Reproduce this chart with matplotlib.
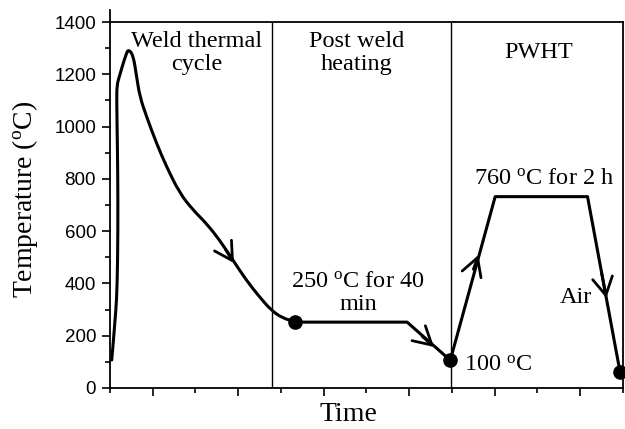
import numpy as np
import matplotlib
matplotlib.use("Agg")
import matplotlib.pyplot as plt
from matplotlib.path import Path
from matplotlib.patches import PathPatch

plt.rcParams['mathtext.fontset'] = 'custom'
plt.rcParams['mathtext.rm'] = 'Liberation Serif'
plt.rcParams['mathtext.it'] = 'Liberation Serif:italic'

# ---- data ----
weld_x = [0.04, 0.08, 0.117, 0.156, 0.18, 0.186, 0.175, 0.156, 0.163, 0.217, 0.31, 0.373, 0.426,
          0.543, 0.622, 0.699, 0.855, 1.088, 1.321, 1.631, 1.941, 2.253, 2.563, 2.873,
          3.185, 3.495, 3.767, 4.038, 4.334]
weld_T = [107, 180, 260, 337, 490, 719, 910, 1102, 1159, 1191, 1243, 1274, 1296,
          1274, 1191, 1114, 1038, 936, 847, 745, 681, 630, 566, 490,
          413, 349, 298, 267, 254]
pwh_x = [4.334, 6.95, 7.96]
pwh_T = [252, 252, 106]
pwht_x = [7.96, 9.01, 11.17, 11.93]
pwht_T = [106, 732, 732, 62]
marker_x = [4.334, 7.96, 11.93]
marker_T = [252, 106, 62]
arrow_tip_x = [2.90, 7.58, 8.62, 11.61]
arrow_tip_T = [478, 157, 509, 344]
arrow_tail_x = [2.70, 7.30, 8.50, 11.50]
arrow_tail_T = [530, 198, 454, 440]
divider_x = [3.78, 7.97]
yticks = [0, 200, 400, 600, 800, 1000, 1200, 1400]

fig = plt.figure(figsize=(6.25, 4.29), dpi=100)
ax = fig.add_axes([110/625, 41/429, 513/625, 378/429])

# smooth drawing of the weld thermal cycle: quadratic B-spline through the read points
pts = np.column_stack([weld_x, weld_T])
verts = [pts[0]]
codes = [Path.MOVETO]
for i in range(1, len(pts) - 1):
    verts += [pts[i], (pts[i] + pts[i + 1]) / 2]
    codes += [Path.CURVE3, Path.CURVE3]
verts.append(pts[-1])
codes.append(Path.LINETO)
ax.add_patch(PathPatch(Path(verts, codes), facecolor='none', edgecolor='black',
                       lw=2.2, joinstyle='round', capstyle='round'))

ax.plot(pwh_x, pwh_T, color='black', lw=2.2)
ax.plot(pwht_x, pwht_T, color='black', lw=2.2)
ax.plot(marker_x, marker_T, 'o', color='black', ms=9.5, clip_on=False, zorder=5)

for tx, tT, sx, sT in zip(arrow_tip_x, arrow_tip_T, arrow_tail_x, arrow_tail_T):
    ax.annotate('', xy=(tx, tT), xytext=(sx, sT),
                arrowprops=dict(arrowstyle='->,head_length=0.8,head_width=0.45',
                                color='black', lw=2.0, mutation_scale=16,
                                shrinkA=0, shrinkB=0))

ax.vlines(divider_x, 0, 1400, color='black', lw=1.0)

ax.set_xlim(0, 12)
ax.set_ylim(0, 1446)
ax.spines['top'].set_position(('data', 1400))
ax.spines['right'].set_bounds(0, 1400)
for s in ax.spines.values():
    s.set_linewidth(1.3)

ax.set_xticks([1, 3, 5, 7, 9, 11])
ax.set_xticks([0, 2, 4, 6, 8, 10, 12], minor=True)
ax.set_xticklabels([])
ax.set_yticks(yticks)
ax.set_yticks([100, 300, 500, 700, 900, 1100, 1300], minor=True)
ax.set_yticklabels([str(v) for v in yticks], fontfamily='Liberation Sans', fontsize=13.5)
ax.tick_params(axis='both', which='major', direction='out', length=6, width=1.2, pad=4)
ax.tick_params(axis='both', which='minor', direction='out', length=3.5, width=1.2)
ax.tick_params(top=False, right=False, which='both')

serif = 'Liberation Serif'
ax.set_ylabel(r'Temperature ($^{\mathrm{o}}$C)', fontfamily=serif, fontsize=20)
ax.yaxis.set_label_coords(-0.166, 0.5)
ax.yaxis.label.set_va('center')
ax.set_xlabel('Time', fontfamily=serif, fontsize=20)
ax.xaxis.set_label_coords(0.464, -0.071)
ax.xaxis.label.set_va('center')

fs = 17.5
ax.text(2.03, 1282, 'Weld thermal\ncycle', ha='center', va='center', fontfamily=serif,
        fontsize=fs, linespacing=1.15)
ax.text(5.78, 1282, 'Post weld\nheating', ha='center', va='center', fontfamily=serif,
        fontsize=fs, linespacing=1.15)
ax.text(10.02, 1285, 'PWHT', ha='center', va='center', fontfamily=serif, fontsize=fs)
ax.text(10.16, 803, r'760 $^{\mathrm{o}}$C for 2 h', ha='center', va='center',
        fontfamily=serif, fontsize=fs)
ax.text(5.80, 363, '250 $^{\\mathrm{o}}$C for 40\nmin', ha='center', va='center',
        fontfamily=serif, fontsize=fs, linespacing=1.15)
ax.text(8.27, 88, r'100 $^{\mathrm{o}}$C', ha='left', va='center', fontfamily=serif, fontsize=fs)
ax.text(10.89, 348, 'Air', ha='center', va='center', fontfamily=serif, fontsize=fs)

fig.savefig('out.png', dpi=100)
